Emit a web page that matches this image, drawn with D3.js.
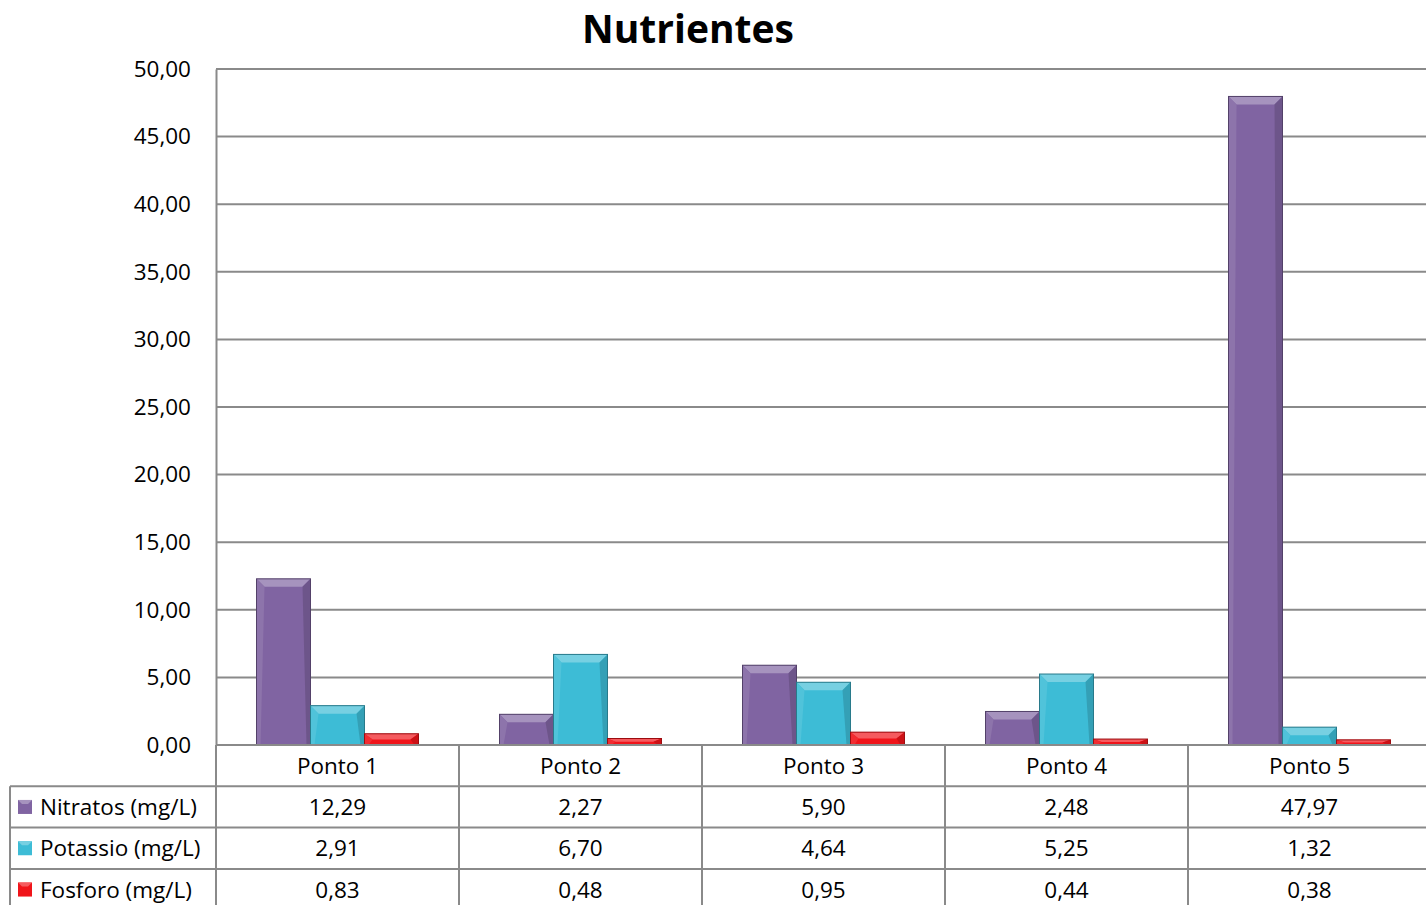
<!DOCTYPE html>
<html><head><meta charset="utf-8">
<script src="https://cdn.jsdelivr.net/npm/d3@7"></script>
<style>body{margin:0;background:#fff;}svg{display:block;font-family:"Open Sans",sans-serif;}</style>
</head><body><svg id="c" width="1426" height="905"></svg>
<script>
const categories = ["Ponto 1","Ponto 2","Ponto 3","Ponto 4","Ponto 5"];
const seriesNames = ["Nitratos (mg/L)","Potassio (mg/L)","Fosforo (mg/L)"];
const nitratos = [12.29,2.27,5.90,2.48,47.97];
const potassio = [2.91,6.70,4.64,5.25,1.32];
const fosforo = [0.83,0.48,0.95,0.44,0.38];
const yTicks = [0,5,10,15,20,25,30,35,40,45,50];
const colors = ["#8064A2","#3DBCD6","#F0141A"];
const title = "Nutrientes";

const series = [nitratos, potassio, fosforo];
const fmt = v => v.toFixed(2).replace(".", ",");
const svg = d3.select("#c");
const L = 216, R = 1431, T = 69, B = 745;
const FS = 22.5;
const x = d3.scaleBand().domain(categories).range([L, R]);
const y = d3.scaleLinear().domain([0, 50]).range([B, T]);
const inner = d3.scaleBand().domain(d3.range(3)).range([0, x.bandwidth()]).paddingOuter(0.75).paddingInner(0);

svg.append("text").attr("x", 688).attr("y", 43).attr("text-anchor", "middle")
  .attr("font-size", 39).attr("font-weight", "bold").attr("fill", "#000").text(title);

// gridlines
svg.append("g").selectAll("line").data(yTicks.filter(t => t > 0)).join("line")
  .attr("x1", L).attr("x2", R).attr("y1", d => y(d)).attr("y2", d => y(d))
  .attr("stroke", "#8a8a8a").attr("stroke-width", 2);

// y axis
const yAxis = d3.axisLeft(y).tickValues(yTicks).tickFormat(fmt).tickSize(0).tickPadding(25);
const ga = svg.append("g").attr("transform", `translate(${L},0)`).call(yAxis);
ga.select(".domain").attr("stroke", "#8a8a8a").attr("stroke-width", 2);
ga.selectAll("text").attr("font-size", FS).attr("fill", "#000").attr("font-family", "'Open Sans',sans-serif");

// bars with bevel
function shade(c, k) { return k > 0 ? d3.interpolateRgb(c, "#fff")(k) : d3.interpolateRgb(c, "#000")(-k); }
const gb = svg.append("g");
series.forEach((vals, si) => {
  vals.forEach((v, ci) => {
    const x0 = x(categories[ci]) + inner(si), w = inner.bandwidth();
    const y0 = y(v), h = y(0) - y(v);
    const g = gb.append("g");
    const c = colors[si];
    const bt = Math.min(8, h / 2), bs = Math.min(4, w / 4);
    g.append("rect").attr("x", x0).attr("y", y0).attr("width", w).attr("height", h).attr("fill", c);
    g.append("polygon").attr("points", [[x0,y0],[x0+w,y0],[x0+w-bs*2,y0+bt],[x0+bs*2,y0+bt]].join(" ")).attr("fill", shade(c, 0.3));
    g.append("polygon").attr("points", [[x0,y0],[x0+bs*2,y0+bt],[x0+bs,y0+h],[x0,y0+h]].join(" ")).attr("fill", shade(c, 0.1));
    g.append("polygon").attr("points", [[x0+w,y0],[x0+w-bs*2,y0+bt],[x0+w-bs,y0+h],[x0+w,y0+h]].join(" ")).attr("fill", shade(c, -0.15));
    g.append("rect").attr("x", x0).attr("y", y0).attr("width", w).attr("height", h).attr("fill", "none").attr("stroke", shade(c, -0.35)).attr("stroke-width", 1);
  });
});

// baseline
svg.append("line").attr("x1", L).attr("x2", R).attr("y1", B).attr("y2", B).attr("stroke", "#8a8a8a").attr("stroke-width", 2);

// data table
const rowH = 41.3;
const tb = svg.append("g");
const lineC = "#8a8a8a";
categories.forEach((c, i) => {
  tb.append("line").attr("x1", x(c)).attr("x2", x(c)).attr("y1", B).attr("y2", 910).attr("stroke", lineC).attr("stroke-width", 2);
  tb.append("text").attr("x", x(c) + x.bandwidth() / 2).attr("y", B + rowH / 2 + 8).attr("text-anchor", "middle")
    .attr("font-size", FS).text(c);
});
tb.append("line").attr("x1", 10).attr("x2", 10).attr("y1", B + rowH).attr("y2", 910).attr("stroke", lineC).attr("stroke-width", 2);
for (let r = 1; r <= 3; r++) {
  tb.append("line").attr("x1", 10).attr("x2", R).attr("y1", B + rowH * r).attr("y2", B + rowH * r).attr("stroke", lineC).attr("stroke-width", 2);
}
series.forEach((vals, si) => {
  const cy = B + rowH * (si + 1) + rowH / 2;
  const ks = 14, kx = 18;
  const c = colors[si];
  tb.append("rect").attr("x", kx).attr("y", cy - ks / 2).attr("width", ks).attr("height", ks).attr("fill", c);
  tb.append("polygon").attr("points", [[kx,cy-ks/2],[kx+ks,cy-ks/2],[kx+ks-4,cy-ks/2+4],[kx+4,cy-ks/2+4]].join(" ")).attr("fill", shade(c, 0.3));
  tb.append("text").attr("x", 40).attr("y", cy + 8).attr("font-size", FS).text(seriesNames[si]);
  vals.forEach((v, ci) => {
    tb.append("text").attr("x", x(categories[ci]) + x.bandwidth() / 2).attr("y", cy + 8).attr("text-anchor", "middle")
      .attr("font-size", FS).text(fmt(v));
  });
});
</script></body></html>
